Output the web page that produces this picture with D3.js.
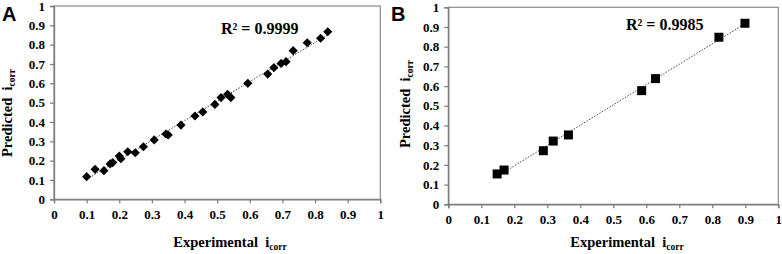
<!DOCTYPE html>
<html><head><meta charset="utf-8">
<script src="https://cdn.jsdelivr.net/npm/d3@7"></script>
<style>body{margin:0;background:#fff}svg{display:block}</style>
</head><body>
<script>
const ticks = [0,0.1,0.2,0.3,0.4,0.5,0.6,0.7,0.8,0.9,1];
const tickLabels = ["0","0.1","0.2","0.3","0.4","0.5","0.6","0.7","0.8","0.9","1"];
const expA = [0.10,0.126,0.153,0.172,0.18,0.20,0.205,0.226,0.249,0.274,0.307,0.343,0.35,0.389,0.432,0.456,0.493,0.512,0.532,0.542,0.594,0.655,0.674,0.696,0.711,0.733,0.776,0.817,0.839];
const predA = [0.117,0.155,0.148,0.183,0.19,0.224,0.21,0.246,0.241,0.272,0.307,0.338,0.333,0.384,0.431,0.452,0.491,0.526,0.543,0.526,0.60,0.648,0.681,0.703,0.712,0.769,0.81,0.833,0.867];
const expB = [0.148,0.169,0.288,0.318,0.364,0.586,0.628,0.82,0.899];
const predB = [0.154,0.174,0.272,0.321,0.352,0.577,0.638,0.848,0.919];
const r2Labels = ["R² = 0.9999","R² = 0.9985"];
const panelLetters = ["A","B"];

const svg = d3.select("body").append("svg").attr("width",782).attr("height",254);
const serif = "'Liberation Serif','Times New Roman',serif";

const panels = [
  {xs:expA, ys:predA, letter:panelLetters[0], r2:r2Labels[0], x0:54, x1:380.3, y0:199.3, y1:6,
   marker:"diamond", r2x:221, r2y:34, letterX:2, letterY:21, xtitleX:230, ytitleX:12, ytitleY:113},
  {xs:expB, ys:predB, letter:panelLetters[1], r2:r2Labels[1], x0:448.3, x1:778.3, y0:204.3, y1:7.3,
   marker:"square", r2x:626, r2y:30, letterX:391, letterY:21, xtitleX:627, ytitleX:410, ytitleY:104}
];

panels.forEach(p => {
  const g = svg.append("g");
  const x = d3.scaleLinear().domain([0,1]).range([p.x0,p.x1]);
  const y = d3.scaleLinear().domain([0,1]).range([p.y0,p.y1]);
  g.append("rect").attr("x",p.x0).attr("y",p.y1).attr("width",p.x1-p.x0).attr("height",p.y0-p.y1)
    .attr("fill","none").attr("stroke","#8c8c8c").attr("stroke-width",1.2);
  const xa = g.append("g").attr("transform",`translate(0,${p.y0})`)
    .call(d3.axisBottom(x).tickValues(ticks).tickFormat((d,i)=>tickLabels[i]).tickSize(4).tickPadding(6));
  const ya = g.append("g").attr("transform",`translate(${p.x0},0)`)
    .call(d3.axisLeft(y).tickValues(ticks).tickFormat((d,i)=>tickLabels[i]).tickSize(4).tickPadding(5));
  [xa,ya].forEach(a=>{
    a.select(".domain").attr("stroke","#7a7a7a").attr("stroke-width",1.3);
    a.selectAll(".tick line").attr("stroke","#7a7a7a").attr("stroke-width",1.2);
    a.selectAll("text").attr("font-family",serif).attr("font-weight","bold").attr("font-size",13).attr("fill","#000");
  });
  const mx = d3.mean(p.xs), my = d3.mean(p.ys);
  let sxy=0,sxx=0; p.xs.forEach((v,i)=>{sxy+=(v-mx)*(p.ys[i]-my); sxx+=(v-mx)*(v-mx);});
  const b = sxy/sxx, a0 = my-b*mx;
  const xmin = d3.min(p.xs), xmax = d3.max(p.xs);
  g.append("line").attr("x1",x(xmin)).attr("y1",y(a0+b*xmin)).attr("x2",x(xmax)).attr("y2",y(a0+b*xmax))
    .attr("stroke","#444").attr("stroke-width",1).attr("stroke-dasharray","1.5,1.5");
  const sym = p.marker==="diamond" ? d3.symbol().type(d3.symbolSquare).size(42) : d3.symbol().type(d3.symbolSquare).size(81);
  g.selectAll("path.pt").data(p.xs.map((v,i)=>[v,p.ys[i]])).enter().append("path").attr("class","pt")
    .attr("d",sym)
    .attr("transform",d=>`translate(${x(d[0])},${y(d[1])})` + (p.marker==="diamond"?" rotate(45)":""))
    .attr("fill","#000");
  g.append("text").attr("x",p.r2x).attr("y",p.r2y).attr("font-family",serif).attr("font-weight","bold")
    .attr("font-size",16).text(p.r2);
  g.append("text").attr("x",p.letterX).attr("y",p.letterY).attr("font-family","'Liberation Sans',Arial,sans-serif")
    .attr("font-weight","bold").attr("font-size",20).text(p.letter);
  const xt = g.append("text").attr("x",p.xtitleX).attr("y",247).attr("text-anchor","middle")
    .attr("font-family",serif).attr("font-weight","bold").attr("font-size",14.5).attr("xml:space","preserve");
  xt.append("tspan").text("Experimental  i");
  xt.append("tspan").attr("font-size",9.5).attr("dy",3).text("corr");
  const yt = g.append("text").attr("transform",`translate(${p.ytitleX},${p.ytitleY}) rotate(-90)`).attr("text-anchor","middle")
    .attr("font-family",serif).attr("font-weight","bold").attr("font-size",14.5).attr("xml:space","preserve");
  yt.append("tspan").text("Predicted  i");
  yt.append("tspan").attr("font-size",9.5).attr("dy",3).text("corr");
});
</script>
</body></html>
